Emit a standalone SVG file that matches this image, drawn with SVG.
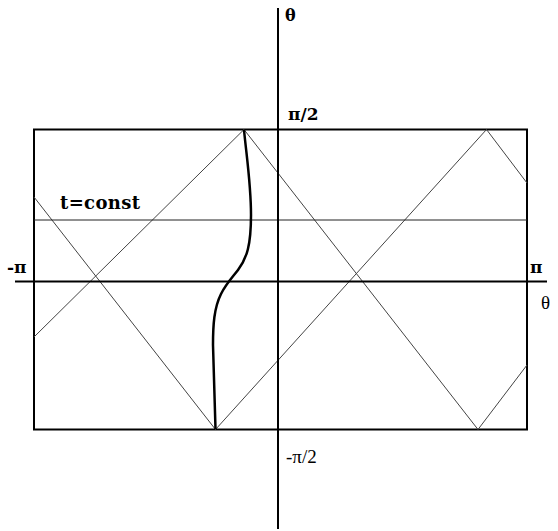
<svg xmlns="http://www.w3.org/2000/svg" width="558" height="531" viewBox="0 0 558 531">
<style>
.frame{fill:none;stroke:#000;stroke-width:2}
.axis{stroke:#000;stroke-width:2}
.thin{fill:none;stroke:#444;stroke-width:1}
.tline{stroke:#222;stroke-width:1}
.curve{fill:none;stroke:#000;stroke-width:2.5}
.lbl{font-family:'DejaVu Serif','Liberation Serif',serif;font-weight:bold;fill:#000}
.reg{font-family:'Liberation Serif','DejaVu Serif',serif;font-weight:normal;fill:#000}
</style>
<rect width="558" height="531" fill="#fff"/>
<g id="frame">
<rect class="frame" x="34" y="129.5" width="493" height="300"/>
</g>
<g id="zigzag">
<polyline class="thin" points="34,197 215.5,429.5 486.5,129.5 527,183"/>
<polyline class="thin" points="34,337 244,129.5 478,429.5 527,365"/>
</g>
<g id="t-const">
<line class="tline" x1="34" y1="220" x2="527" y2="220"/>
<text class="lbl" x="60" y="209" font-size="18" textLength="80">t=const</text>
</g>
<g id="axes">
<line class="axis" x1="278" y1="8" x2="278" y2="529"/>
<line class="axis" x1="15" y1="281.5" x2="547" y2="281.5"/>
</g>
<g id="curve">
<path class="curve" d="M244,130 C247,160 251,185 251,215 C251,245 247,258 238,270 C231,279 226,284 221,294 C214,308 213,325 213,345 L215.5,429"/>
</g>
<g id="labels">
<text class="lbl" x="285" y="21" font-size="16">θ</text>
<text class="lbl" x="288" y="120" font-size="17">π/2</text>
<text class="reg" x="286" y="463" font-size="19">-π/2</text>
<text class="lbl" x="7" y="273" font-size="17">-π</text>
<text class="lbl" x="530" y="273" font-size="17">π</text>
<text class="reg" x="541" y="309" font-size="19">θ</text>
</g>
</svg>
